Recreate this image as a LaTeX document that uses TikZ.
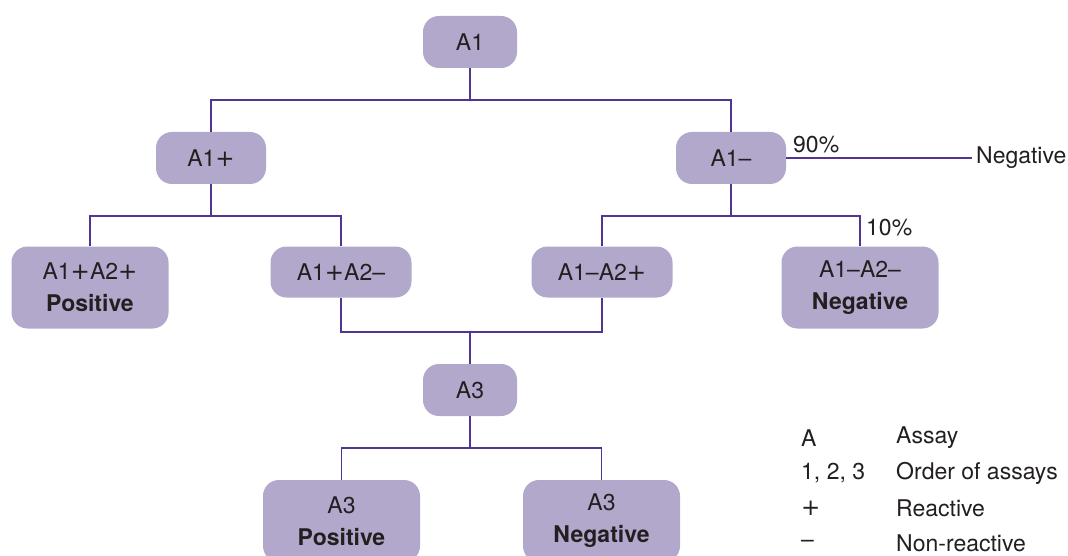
\documentclass[tikz,border=0pt]{standalone}
\usepackage{fontspec}
\setmainfont{TeX Gyre Heros}
\newfontfamily\plusfont{DejaVu Sans}
\newcommand\pl{{\plusfont +}}
\definecolor{boxfill}{RGB}{177,168,204}
\definecolor{linecol}{RGB}{82,53,146}
\definecolor{txt}{RGB}{35,31,32}
\begin{document}
\begin{tikzpicture}[x=1pt,y=-1pt,
  box/.style={draw=none,fill=boxfill,rounded corners=16pt,inner sep=0pt,align=center,text=txt,
    font=\fontsize{23}{32}\selectfont},
  small/.style={box,minimum width=94pt,minimum height=52pt},
  mid/.style={box,minimum width=110pt,minimum height=52pt},
  wide/.style={box,minimum width=141pt,minimum height=51pt},
  big/.style={box,minimum width=157pt,minimum height=82pt},
  conn/.style={draw=linecol,line width=1.3pt},
  lbl/.style={text=txt,inner sep=0pt,font=\fontsize{23}{27}\selectfont}]
\useasboundingbox (0,0) rectangle (1068,556);
\node[small] (A1) at (470,42) {A1};
\node[mid] (A1p) at (211,158) {A1\pl};
\node[mid] (A1m) at (731,158) {A1–};
\node[big] (A1pA2p) at (90,287.5) {A1\pl A2\pl\\\textbf{Positive}};
\node[wide] (A1pA2m) at (341,272) {A1\pl A2–};
\node[wide] (A1mA2p) at (602,272) {A1–A2\pl};
\node[big] (A1mA2m) at (860,287.5) {A1–A2–\\\textbf{Negative}};
\node[small] (A3) at (470,390) {A3};
\node[big] (A3p) at (341.5,521) {A3\\\textbf{Positive}};
\node[big] (A3n) at (601.5,521) {A3\\\textbf{Negative}};
\node[lbl,anchor=west] (neg) at (976,158) {Negative};
\node[lbl,anchor=west] (p90) at (793,145) {90\%};
\node[lbl,anchor=west] (p10) at (866,228) {10\%};
\coordinate (j1) at (470,100);
\coordinate (j2) at (211,216);
\coordinate (j3) at (731,216);
\coordinate (j4) at (470,332);
\coordinate (j5) at (470,448);
\draw[conn] (A1.south) -- (j1);
\draw[conn] (A1p.north) |- (j1) -| (A1m.north);
\draw[conn] (A1p.south) -- (j2);
\draw[conn] (A1pA2p.north) |- (j2) -| (A1pA2m.north);
\draw[conn] (A1m.south) -- (j3);
\draw[conn] (A1mA2p.north) |- (j3) -| (A1mA2m.north);
\draw[conn,shorten >=4pt] (A1m.east) -- (neg.west);
\draw[conn] (A1pA2m.south) |- (j4) -| (A1mA2p.south);
\draw[conn] (j4) -- (A3.north);
\draw[conn] (A3.south) -- (j5);
\draw[conn] (A3p.north) |- (j5) -| (A3n.north);
\node[lbl,anchor=west] (k1) at (801,438) {A};
\node[lbl,anchor=west] (k2) at (801,473) {1, 2, 3};
\node[lbl,anchor=west] (k3) at (801,508.5) {\pl};
\node[lbl,anchor=west] (k4) at (801,543.5) {–};
\node[lbl,anchor=west] (d1) at (896,438) {Assay};
\node[lbl,anchor=west] (d2) at (896,473) {Order of assays};
\node[lbl,anchor=west] (d3) at (896,508.5) {Reactive};
\node[lbl,anchor=west] (d4) at (896,543.5) {Non-reactive};
\end{tikzpicture}
\end{document}
